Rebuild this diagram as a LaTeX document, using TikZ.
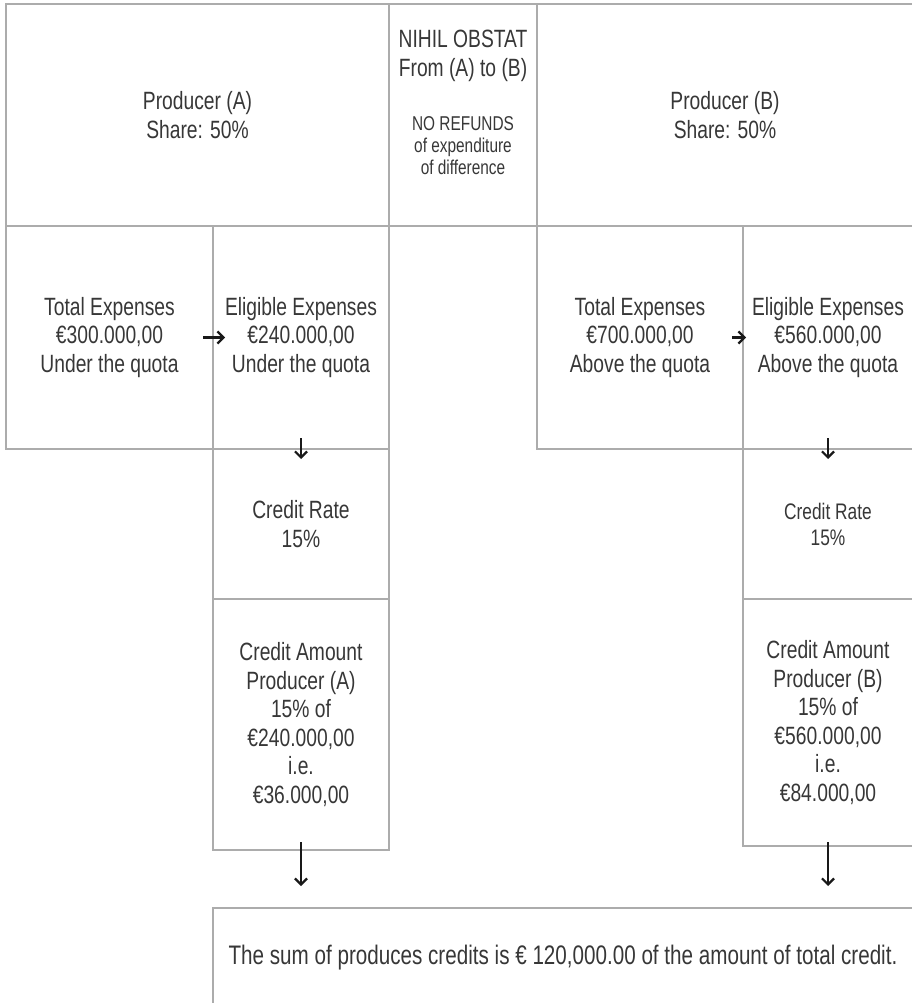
\documentclass[tikz,border=0pt]{standalone}
\usepackage{fontspec}
\setmainfont{Liberation Sans}[FakeStretch=0.77]
\usetikzlibrary{arrows.meta,positioning}
\definecolor{gridgray}{RGB}{172,172,172}
\definecolor{textgray}{RGB}{55,55,55}
\definecolor{arrowblack}{RGB}{25,25,25}

\begin{document}
\begin{tikzpicture}[x=1pt, y=-1pt, >={Straight Barb[length=6pt,width=12pt]},
    cell/.style={draw=gridgray, line width=1.4pt, anchor=north west, inner sep=0pt, outer sep=0pt,
      align=center, text=textgray, font=\fontsize{25}{28.5}\selectfont},
    flow/.style={->, draw=arrowblack, line width=2.2pt}]
  \useasboundingbox (0,0) rectangle (911,1003);

  % top row
  \node[cell, minimum width=383pt, minimum height=222pt] (prodA) at (6,4) {Producer (A)\\Share: 50\%};
  \node[cell, minimum width=148pt, minimum height=222pt] (nihil) at (389,4) {};
  \node[cell, minimum width=376pt, minimum height=222pt] (prodB) at (537,4) {Producer (B)\\Share: 50\%};
  \node[below=26pt of nihil.north, inner sep=0pt, align=center, text=textgray,
    font=\fontsize{25}{28.5}\selectfont] (nihilhead) {NIHIL OBSTAT\\From (A) to (B)};
  \node[below=35pt of nihilhead, inner sep=0pt, align=center, text=textgray,
    font=\fontsize{20}{22}\selectfont] (nihilnote) {NO REFUNDS\\of expenditure\\of difference};

  % expenses
  \node[cell, minimum width=207pt, minimum height=223pt] (totA) at (6,226) {Total Expenses\\€300.000,00\\Under the quota};
  \node[cell, minimum width=176pt, minimum height=223pt] (eligA) at (213,226) {Eligible Expenses\\€240.000,00\\Under the quota};
  \node[cell, minimum width=206pt, minimum height=223pt] (totB) at (537,226) {Total Expenses\\€700.000,00\\Above the quota};
  \node[cell, minimum width=170pt, minimum height=223pt] (eligB) at (743,226) {Eligible Expenses\\€560.000,00\\Above the quota};

  % credit
  \node[cell, minimum width=176pt, minimum height=150pt] (rateA) at (213,449) {Credit Rate\\15\%};
  \node[cell, minimum width=170pt, minimum height=150pt, font=\fontsize{22.5}{26}\selectfont] (rateB) at (743,449) {Credit Rate\\15\%};
  \node[cell, minimum width=176pt, minimum height=251pt] (amtA) at (213,599) {Credit Amount\\Producer (A)\\15\% of\\€240.000,00\\i.e.\\€36.000,00};
  \node[cell, minimum width=170pt, minimum height=247pt] (amtB) at (743,599) {Credit Amount\\Producer (B)\\15\% of\\€560.000,00\\i.e.\\€84.000,00};

  \node[cell, minimum width=700pt, minimum height=100pt, font=\fontsize{26.8}{30}\selectfont] (sum) at (213,908) {The sum of produces credits is € 120,000.00 of the amount of total credit.};

  \coordinate (sumA) at (amtA.south |- sum.north);
  \coordinate (sumB) at (amtB.south |- sum.north);

  \draw[flow] ([xshift=-10pt]totA.east) -- ([xshift=12pt]eligA.west);
  \draw[flow] ([xshift=-11pt]totB.east) -- ([xshift=3pt]eligB.west);
  \draw[flow] ([yshift=11pt]eligA.south) -- ([yshift=-10pt]rateA.north);
  \draw[flow] ([yshift=11pt]eligB.south) -- ([yshift=-10pt]rateB.north);
  \draw[flow] ([yshift=8pt]amtA.south) -- ([yshift=22pt]sumA);
  \draw[flow] ([yshift=4pt]amtB.south) -- ([yshift=22pt]sumB);
\end{tikzpicture}
\end{document}
